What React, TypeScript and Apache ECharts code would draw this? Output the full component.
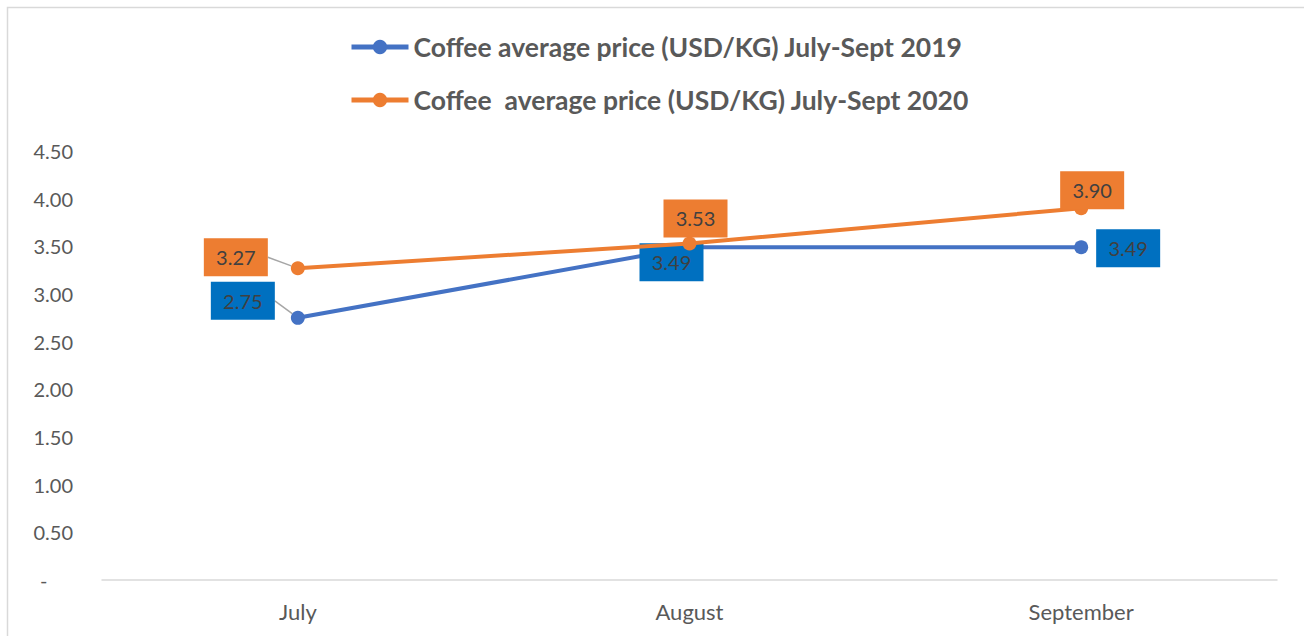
import React, { useEffect, useRef } from "react";
import * as echarts from "echarts";

const categories = ["July", "August", "September"];
const series2019 = [2.75, 3.49, 3.49];
const series2020 = [3.27, 3.53, 3.9];
const name2019 = "Coffee average price (USD/KG) July-Sept 2019";
const name2020 = "Coffee  average price (USD/KG) July-Sept 2020";
// label offsets (relative to the point) for each data label
const offsets2019 = [[-55, -17], [-18, 15], [47, 1]];
const offsets2020 = [[-62, -11], [6, -25], [11, -18]];
const leader2019 = [true, false, false];
const leader2020 = [true, false, false];

const BLUE_LINE = "#4472C4";
const BLUE_BOX = "#0070C0";
const ORANGE = "#ED7D31";

function makeData(values: number[], offs: number[][], leader: boolean[], box: string) {
  return values.map((v, i) => ({
    value: v,
    label: {
      show: true,
      position: "inside",
      offset: offs[i],
      formatter: (p: any) => Number(p.value).toFixed(2),
      backgroundColor: box,
      color: "#404040",
      fontFamily: "Lato",
      fontSize: 20,
      width: 64,
      height: 38,
      lineHeight: 38,
      padding: 0,
      align: "center",
      verticalAlign: "middle",
    },
    labelLine: {
      show: leader[i],
      lineStyle: { color: "#A6A6A6", width: 1.5 },
    },
  }));
}

export default function App() {
  const ref = useRef<HTMLDivElement>(null);
  useEffect(() => {
    if (!ref.current) return;
    const chart = echarts.init(ref.current, undefined, { renderer: "svg" });
    chart.setOption({
      animation: false,
      backgroundColor: "#ffffff",
      graphic: [
        {
          type: "rect",
          shape: { x: 7.5, y: 7.5, width: 1310, height: 640 },
          style: { fill: "none", stroke: "#D9D9D9", lineWidth: 1.5 },
          silent: true,
        },
      ],
      legend: {
        orient: "vertical",
        top: 32,
        left: 349,
        padding: 0,
        itemWidth: 57,
        itemHeight: 18,
        itemGap: 23,
        lineStyle: { width: 5 },
        textStyle: {
          fontFamily: "Lato",
          fontWeight: "bold",
          fontSize: 26.5,
          lineHeight: 30,
          color: "#595959",
        },
        data: [name2019, name2020],
      },
      grid: { left: 102, right: 27, top: 151, bottom: 56, containLabel: false },
      xAxis: {
        type: "category",
        data: categories,
        boundaryGap: true,
        axisLine: { lineStyle: { color: "#D9D9D9", width: 1.5 } },
        axisTick: { show: false },
        axisLabel: {
          margin: 20,
          fontFamily: "Lato",
          fontSize: 22,
          color: "#595959",
        },
      },
      yAxis: {
        type: "value",
        min: 0,
        max: 4.5,
        interval: 0.5,
        axisLine: { show: false },
        axisTick: { show: false },
        splitLine: { show: false },
        axisLabel: {
          margin: 29,
          fontFamily: "Lato",
          fontSize: 20,
          color: "#595959",
          formatter: (v: number) => (v === 0 ? "-     " : v.toFixed(2)),
        },
      },
      series: [
        {
          name: name2019,
          type: "line",
          data: makeData(series2019, offsets2019, leader2019, BLUE_BOX),
          symbol: "circle",
          symbolSize: 14,
          lineStyle: { color: BLUE_LINE, width: 4 },
          itemStyle: { color: BLUE_LINE },
          z: 2,
        },
        {
          name: name2020,
          type: "line",
          data: makeData(series2020, offsets2020, leader2020, ORANGE),
          symbol: "circle",
          symbolSize: 14,
          lineStyle: { color: ORANGE, width: 4 },
          itemStyle: { color: ORANGE },
          z: 3,
        },
      ],
    });
    return () => chart.dispose();
  }, []);
  return (
    <div
      ref={ref}
      style={{ position: "fixed", left: 0, top: 0, width: 1304, height: 636 }}
    />
  );
}
